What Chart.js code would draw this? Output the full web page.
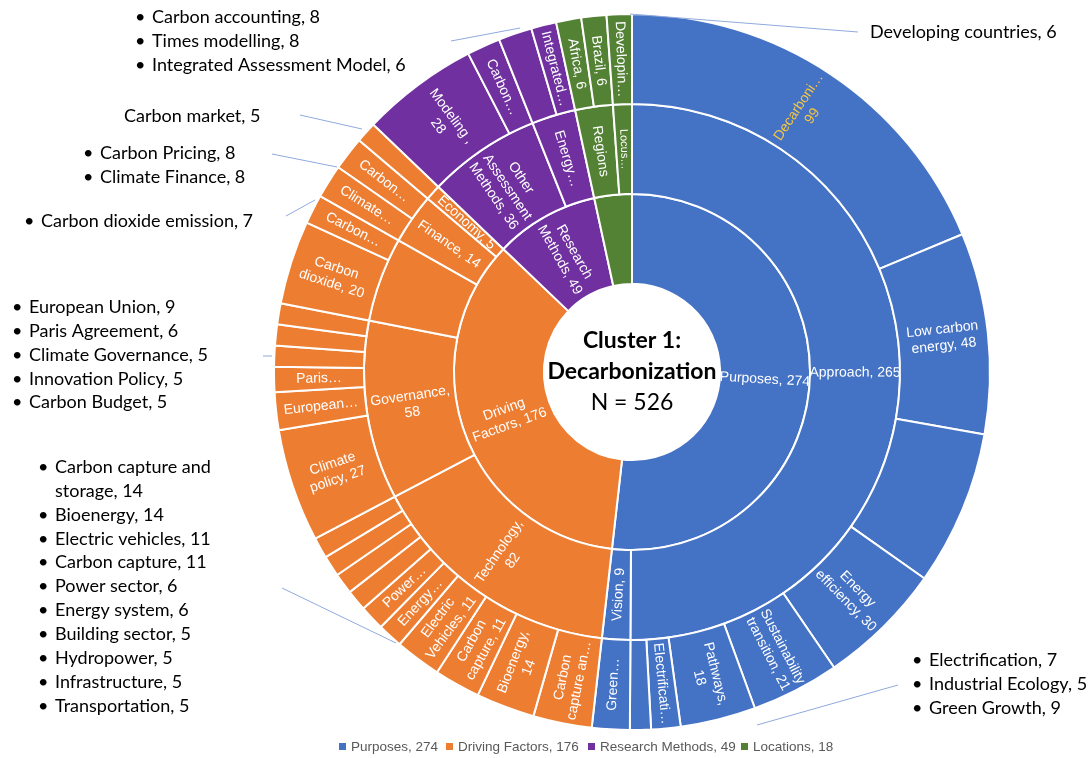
<!DOCTYPE html>
<html lang="en">
<head>
    <meta charset="UTF-8">
    <title>Cluster 1: Decarbonization</title>
    <script src="https://cdn.jsdelivr.net/npm/chart.js"></script>
    <style>
        html, body {
            margin: 0;
            padding: 0;
            background: #ffffff;
        }

        #wrap {
            position: relative;
            width: 1090px;
            height: 758px;
        }
    </style>
</head>
<body>
    <div id="wrap">
        <canvas id="sunburst" width="1090" height="758"></canvas>
    </div>

    <script>
        // top level groups (inner ring + legend)
        const groupLegend = ['Purposes, 274', 'Driving Factors, 176', 'Research Methods, 49', 'Locations, 18'];
        const groupColors = ['#4472C4', '#ED7D31', '#7030A0', '#548235'];

        // inner ring
        const innerLabels = ['Purposes, 274', 'Driving\nFactors, 176', 'Research\nMethods, 49', ''];
        const innerValues = [274, 187, 50, 18];
        const innerGroup = [0, 1, 2, 3];

        // middle ring
        const midLabels = [
            'Approach, 265', 'Vision, 9',
            'Technology,\n82', 'Governance,\n58', '', 'Finance, 14', 'Economy, 5',
            'Other\nAssessment\nMethods, 36', 'Energy…',
            'Regions', 'Locus…'
        ];
        const midValues = [265, 9, 82, 57, 27, 16, 5, 36, 14, 12, 6];
        const midGroup = [0, 0, 1, 1, 1, 1, 1, 2, 2, 3, 3];

        // outer ring
        const outerLabels = [
            'Decarboni…\n99', 'Low carbon\nenergy, 48', '', 'Energy\nefficiency, 30', 'Sustainability\ntransition, 21',
            'Pathways,\n18', 'Electrificati…', '', 'Green…',
            'Carbon\ncapture an…', 'Bioenergy,\n14', 'Carbon\ncapture, 11', 'Electric\nVehicles, 11', 'Energy…', 'Power…',
            '', '', '', '',
            'Climate\npolicy, 27', 'European…', 'Paris…', '', '', '',
            'Carbon\ndioxide, 20', 'Carbon…', 'Climate…', 'Carbon…', '',
            'Modeling ,\n28', 'Carbon…', '', 'Integrated…',
            'Africa, 6', 'Brazil, 6', 'Developin…'
        ];
        const outerValues = [
            99, 48, 37, 30, 21, 18, 7, 5, 9,
            14, 14, 11, 11, 6, 6, 5, 5, 5, 5,
            27, 9, 6, 5, 5, 5,
            20, 7, 8, 8, 5,
            28, 8, 8, 6,
            6, 6, 6
        ];
        const outerGroup = [
            0, 0, 0, 0, 0, 0, 0, 0, 0,
            1, 1, 1, 1, 1, 1, 1, 1, 1, 1,
            1, 1, 1, 1, 1, 1,
            1, 1, 1, 1, 1,
            2, 2, 2, 2,
            3, 3, 3
        ];

        // callout lists beside the chart
        const callAccounting = ['Carbon accounting, 8', 'Times modelling, 8', 'Integrated Assessment Model, 6'];
        const callMarket = ['Carbon market, 5'];
        const callFinance = ['Carbon Pricing, 8', 'Climate Finance, 8'];
        const callEmission = ['Carbon dioxide emission, 7'];
        const callGovernance = ['European Union, 9', 'Paris Agreement, 6', 'Climate Governance, 5', 'Innovation Policy, 5', 'Carbon Budget, 5'];
        const callTechnology = ['Carbon capture and\nstorage, 14', 'Bioenergy, 14', 'Electric vehicles, 11', 'Carbon capture, 11',
            'Power sector, 6', 'Energy system, 6', 'Building sector, 5', 'Hydropower, 5', 'Infrastructure, 5', 'Transportation, 5'];
        const callPurposes = ['Electrification, 7', 'Industrial Ecology, 5', 'Green Growth, 9'];
        const callLocations = ['Developing countries, 6'];

        const centerLines = ['Cluster 1:', 'Decarbonization', 'N = 526'];

        // layout for the callouts (text start x, first line y, bullets, leader line)
        const callouts = [
            { items: callAccounting, x: 152, y: 17, bullet: true, line: [451, 41, 520, 28] },
            { items: callMarket, x: 124, y: 116, bullet: false, line: [300, 115, 362, 129] },
            { items: callFinance, x: 100, y: 153, bullet: true, line: [272, 154, 337, 167] },
            { items: callEmission, x: 41, y: 221, bullet: true, line: [286, 216, 315, 200] },
            { items: callGovernance, x: 29, y: 307, bullet: true, line: [263, 356, 272, 356] },
            { items: callTechnology, x: 55, y: 467, bullet: true, line: [282, 588, 396, 643] },
            { items: callPurposes, x: 929, y: 660, bullet: true, line: [898, 685, 757, 725] },
            { items: callLocations, x: 870, y: 32, bullet: false, line: [858, 32, 630, 14] }
        ];

        const ringLabels = [outerLabels, midLabels, innerLabels];
        const labelFont = '14px "Liberation Sans", Arial, sans-serif';
        const calloutFont = '18px Lato, "Open Sans", sans-serif';

        const sunburstText = {
            id: 'sunburstText',
            afterDatasetsDraw(chart) {
                const ctx = chart.ctx;
                ctx.save();
                ctx.textAlign = 'center';
                ctx.textBaseline = 'middle';

                // labels inside the segments, written along the radius
                ringLabels.forEach((labels, di) => {
                    const meta = chart.getDatasetMeta(di);
                    meta.data.forEach((arc, i) => {
                        const text = labels[i];
                        if (!text) return;
                        const p = arc.getProps(['x', 'y', 'startAngle', 'endAngle', 'innerRadius', 'outerRadius'], true);
                        const mid = (p.startAngle + p.endAngle) / 2;
                        const r = (p.innerRadius + p.outerRadius) / 2;
                        let deg = (mid + Math.PI / 2) * 180 / Math.PI;
                        deg = ((deg % 360) + 360) % 360;
                        const rot = deg < 180 ? mid : mid + Math.PI;

                        ctx.save();
                        ctx.translate(p.x + r * Math.cos(mid), p.y + r * Math.sin(mid));
                        ctx.rotate(rot);
                        ctx.font = text === 'Locus…' ? '11px "Liberation Sans", Arial, sans-serif' : labelFont;
                        ctx.fillStyle = (di === 0 && i === 0) ? '#F5C744' : '#ffffff';
                        const lines = text.split('\n');
                        lines.forEach((ln, k) => {
                            ctx.fillText(ln, 0, (k - (lines.length - 1) / 2) * 16.5);
                        });
                        ctx.restore();
                    });
                });

                // center text
                const c = chart.getDatasetMeta(0).data[0];
                ctx.fillStyle = '#000000';
                ctx.font = 'bold 23px Lato, sans-serif';
                ctx.fillText(centerLines[0], c.x, c.y - 31);
                ctx.fillText(centerLines[1], c.x, c.y);
                ctx.font = '23px Lato, sans-serif';
                ctx.fillText(centerLines[2], c.x, c.y + 31);

                // callouts with leader lines
                ctx.textAlign = 'left';
                callouts.forEach(co => {
                    ctx.strokeStyle = '#8FAADC';
                    ctx.lineWidth = 1;
                    ctx.beginPath();
                    ctx.moveTo(co.line[0], co.line[1]);
                    ctx.lineTo(co.line[2], co.line[3]);
                    ctx.stroke();

                    ctx.font = calloutFont;
                    ctx.fillStyle = '#000000';
                    let y = co.y;
                    co.items.forEach(item => {
                        item.split('\n').forEach((ln, k) => {
                            if (co.bullet && k === 0) ctx.fillText('•', co.x - 17, y);
                            ctx.fillText(ln, co.x, y);
                            y += 23.9;
                        });
                    });
                });

                // legend
                const legendSquares = [339, 446, 588, 741];
                ctx.font = '13.5px "Liberation Sans", Arial, sans-serif';
                groupLegend.forEach((name, i) => {
                    ctx.fillStyle = groupColors[i];
                    ctx.fillRect(legendSquares[i], 743, 7, 7);
                    ctx.fillStyle = '#595959';
                    ctx.fillText(name, legendSquares[i] + 12, 747);
                });

                ctx.restore();
            }
        };

        const ctxSun = document.getElementById('sunburst').getContext('2d');
        const sunburstChart = new Chart(ctxSun, {
            type: 'doughnut',
            data: {
                datasets: [
                    {
                        data: outerValues,
                        backgroundColor: outerGroup.map(g => groupColors[g]),
                        borderColor: '#ffffff',
                        borderWidth: 2
                    },
                    {
                        data: midValues,
                        backgroundColor: midGroup.map(g => groupColors[g]),
                        borderColor: '#ffffff',
                        borderWidth: 2
                    },
                    {
                        data: innerValues,
                        backgroundColor: innerGroup.map(g => groupColors[g]),
                        borderColor: '#ffffff',
                        borderWidth: 2
                    }
                ]
            },
            options: {
                responsive: false,
                animation: false,
                events: [],
                cutout: '24.6%',
                layout: {
                    padding: {
                        left: 273,
                        right: 99,
                        top: 13,
                        bottom: 27
                    }
                },
                plugins: {
                    legend: {
                        display: false
                    },
                    tooltip: {
                        enabled: false
                    }
                }
            },
            plugins: [sunburstText]
        });
    </script>
</body>
</html>
